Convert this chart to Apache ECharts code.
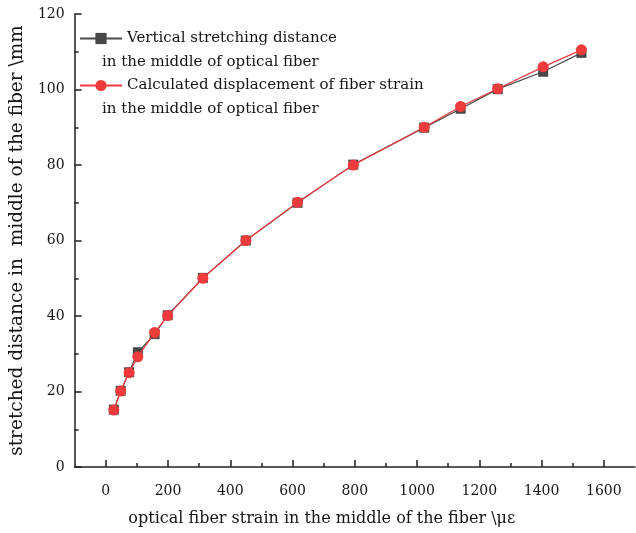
<!DOCTYPE html>
<html>
<head>
<meta charset="utf-8">
<script src="https://cdn.jsdelivr.net/npm/echarts@6/dist/echarts.min.js"></script>
<style>html,body{margin:0;padding:0;background:#fff}#c{width:636px;height:533px}</style>
</head>
<body>
<div id="c"></div>
<script>
var strain = [26, 48, 75, 103, 157, 199, 312, 450, 616, 795, 1023, 1140, 1259, 1405, 1528];
var verticalDist = [15.2, 20.2, 25.1, 30.4, 35.2, 40.2, 50.1, 60.0, 70.0, 80.1, 89.9, 94.9, 100.1, 104.7, 109.7];
var calcDist = [15.1, 20.1, 25.0, 29.2, 35.6, 40.1, 50.0, 60.0, 70.1, 80.0, 90.0, 95.5, 100.2, 106.0, 110.5];
var xMajorTicks = [0, 200, 400, 600, 800, 1000, 1200, 1400, 1600];
var xMinorTicks = [100, 300, 500, 700, 900, 1100, 1300, 1500];
var name1 = 'Vertical stretching distance';
var name2 = 'Calculated displacement of fiber strain';
var nameCont = 'in the middle of optical fiber';

function pairs(xs, ys) { return xs.map(function (x, i) { return [x, ys[i]]; }); }

var font = 'DejaVu Serif';
var txt = '#151515';
var chart = echarts.init(document.getElementById('c'));
chart.setOption({
  animation: false,
  backgroundColor: '#fff',
  grid: { left: 73, right: 1, top: 14, bottom: 66 },
  xAxis: [{
    type: 'value', min: -100, max: 1700, position: 'bottom',
    name: 'optical fiber strain in the middle of the fiber \\με',
    nameLocation: 'middle', nameGap: 44,
    nameTextStyle: { fontFamily: font, fontSize: 16, color: txt, padding: [0, 66, 0, 0] },
    axisLine: { show: true, onZero: false, lineStyle: { color: '#222', width: 1.5 } },
    axisTick: { show: true, inside: true, length: 7, customValues: xMajorTicks, lineStyle: { color: '#222', width: 1.5 } },
    axisLabel: { customValues: xMajorTicks, formatter: function (v) { return String(v); }, fontFamily: font, fontSize: 14, color: txt, margin: 17 },
    splitLine: { show: false }
  }, {
    type: 'value', min: -100, max: 1700, position: 'bottom',
    axisLine: { show: false, onZero: false },
    axisTick: { show: true, inside: true, length: 4, customValues: xMinorTicks, lineStyle: { color: '#222', width: 1.5 } },
    axisLabel: { show: false },
    splitLine: { show: false }
  }],
  yAxis: {
    type: 'value', min: 0, max: 120, interval: 20,
    name: 'stretched distance in  middle of the fiber \\mm',
    nameLocation: 'middle', nameGap: 42,
    nameTextStyle: { fontFamily: font, fontSize: 18.5, color: txt },
    axisLine: { show: true, onZero: false, lineStyle: { color: '#222', width: 1.5 } },
    axisTick: { show: true, inside: true, length: 7, lineStyle: { color: '#222', width: 1.5 } },
    minorTick: { show: true, splitNumber: 2, length: 4, lineStyle: { color: '#222', width: 1.5 } },
    axisLabel: { formatter: function (v) { return String(v); }, fontFamily: font, fontSize: 14, color: txt, margin: 10 },
    splitLine: { show: false }
  },
  legend: [{
    data: [name1], orient: 'vertical', left: 79, top: 31, padding: 0,
    itemWidth: 42, itemHeight: 14, itemGap: 5,
    textStyle: { fontFamily: font, fontSize: 15, color: txt }
  }, {
    data: [name2], orient: 'vertical', left: 79, top: 78, padding: 0,
    itemWidth: 42, itemHeight: 14, itemGap: 5,
    textStyle: { fontFamily: font, fontSize: 15, color: txt }
  }],
  graphic: [
    { type: 'text', left: 102, top: 55, style: { text: nameCont, font: '15px "' + font + '"', fill: txt } },
    { type: 'text', left: 102, top: 102, style: { text: nameCont, font: '15px "' + font + '"', fill: txt } }
  ],
  series: [{
    name: name1, type: 'line', data: pairs(strain, verticalDist),
    symbol: 'rect', symbolSize: 10,
    itemStyle: { color: '#474747' },
    lineStyle: { color: '#4a4a4a', width: 1.2 },
    z: 2
  }, {
    name: name2, type: 'line', data: pairs(strain, calcDist),
    symbol: 'circle', symbolSize: 11,
    itemStyle: { color: '#ef3b3b' },
    lineStyle: { color: '#ef3b3b', width: 1.2 },
    z: 3
  }]
});
</script>
</body>
</html>
